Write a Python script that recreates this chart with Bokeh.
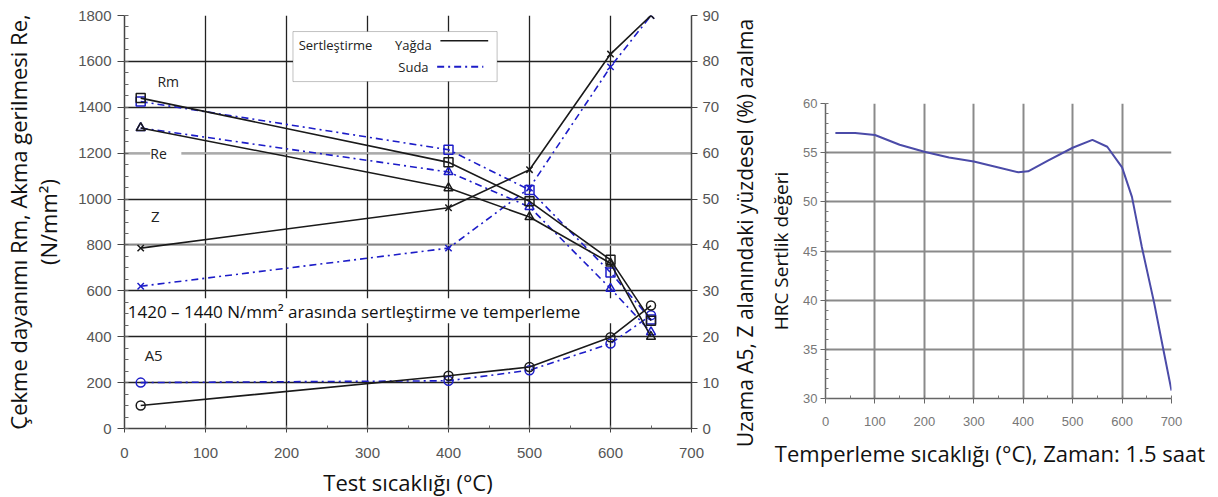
import math
from bokeh.plotting import figure
from bokeh.models import (Range1d, LinearAxis, SingleIntervalTicker, Label,
                          BoxAnnotation, Span, Spacer, FixedTicker)
from bokeh.layouts import row, column
from bokeh.embed import file_html
from bokeh.resources import INLINE

# ---------------- data ----------------
test_temps = [20, 400, 500, 600, 650]
# oil quench (Yağda) - black solid
rm_oil = [1440, 1160, 990, 735, 470]
re_oil = [1310, 1048, 922, 720, 400]
z_oil = [39.3, 48.1, 56.4, 81.6, 90.0]
a5_oil = [5.0, 11.5, 13.4, 19.9, 26.8]
# water quench (Suda) - blue dash-dot
rm_water = [1425, 1215, 1040, 680, 475]
re_water = [1310, 1118, 966, 610, 420]
z_water = [31.0, 39.3, 52.4, 78.8, 90.0]
a5_water = [10.0, 10.4, 12.7, 18.5, 24.7]

hrc_temps = [20, 60, 100, 150, 200, 250, 300, 350, 390, 410, 450, 500, 540,
             570, 600, 620, 640, 665, 685, 700]
hrc_values = [57.0, 57.0, 56.8, 55.8, 55.1, 54.5, 54.1, 53.5, 53.0, 53.1,
              54.2, 55.5, 56.3, 55.6, 53.5, 50.5, 45.4, 39.7, 34.6, 30.8]

BLACK = "#1a1a1a"
BLUE = "#1c1cc8"
TITLE_FONT = "Open Sans"
TICK_FONT = "Liberation Sans"
DASH = "7 4 2 4"

# ---------------- left figure ----------------
p = figure(frame_width=567, frame_height=413,
           x_range=Range1d(0, 700), y_range=Range1d(0, 1800),
           min_border_left=124, min_border_right=34,
           min_border_top=15, min_border_bottom=60,
           output_backend="svg", toolbar_location=None)
p.outline_line_color = None
p.extra_y_ranges = {"pct": Range1d(0, 90)}

p.xaxis.ticker = SingleIntervalTicker(interval=100, num_minor_ticks=2)
p.yaxis.ticker = SingleIntervalTicker(interval=200, num_minor_ticks=4)

for ax in (p.xaxis[0], p.yaxis[0]):
    ax.axis_line_color = "#444444"
    ax.axis_line_width = 1.5
    ax.major_tick_line_color = "#444444"
    ax.minor_tick_line_color = "#666666"
    ax.major_label_text_font = TICK_FONT
    ax.major_label_text_font_size = "15px"
    ax.major_label_text_color = "#555555"
    ax.axis_label_text_font = TITLE_FONT
    ax.axis_label_text_font_size = "22px"
    ax.axis_label_text_font_style = "normal"
    ax.axis_label_text_color = "#111111"

p.yaxis.major_tick_out = 7
p.yaxis.major_tick_in = 0
p.yaxis.minor_tick_in = 4
p.yaxis.minor_tick_out = 0
p.yaxis.major_label_standoff = 6
p.yaxis.axis_label = "Çekme dayanımı Rm, Akma gerilmesi Re,\n(N/mm²)"
p.yaxis.axis_label_text_line_height = 1.0
p.yaxis.axis_label_standoff = 12

p.xaxis.major_tick_out = 4
p.xaxis.major_tick_in = 0
p.xaxis.minor_tick_in = 3
p.xaxis.minor_tick_out = 0
p.xaxis.major_label_standoff = 15
p.xaxis.axis_label = "Test sıcaklığı (°C)"
p.xaxis.axis_label_standoff = 6

rax = LinearAxis(y_range_name="pct",
                 ticker=SingleIntervalTicker(interval=10, num_minor_ticks=0))
rax.axis_line_color = "#444444"
rax.axis_line_width = 1.5
rax.major_tick_line_color = "#444444"
rax.major_tick_out = 6
rax.major_tick_in = 0
rax.major_label_text_font = TICK_FONT
rax.major_label_text_font_size = "15px"
rax.major_label_text_color = "#555555"
rax.major_label_standoff = 5
p.add_layout(rax, "right")

p.xgrid.grid_line_color = "#222222"
p.xgrid.grid_line_width = 1.3
p.ygrid.grid_line_color = "#222222"
p.ygrid.grid_line_width = 1.3
for lvl in (800, 1200):
    p.add_layout(Span(location=lvl, dimension="width", line_color="#aaaaaa",
                      line_width=1.6, level="underlay"))

# white boxes (legend and note)
p.add_layout(BoxAnnotation(left=208, right=460, top=1730, bottom=1512,
                           fill_color="white", fill_alpha=1.0,
                           line_color="#333333", line_width=1,
                           level="underlay"))
p.add_layout(BoxAnnotation(left=4, right=612, top=568, bottom=459,
                           fill_color="white", fill_alpha=1.0,
                           line_color=None, level="underlay"))

def series(xs, ys, color, dash, marker, rng="default"):
    kw = {} if rng == "default" else {"y_range_name": rng}
    p.line(xs, ys, line_color=color, line_width=1.6, line_dash=dash, **kw)
    p.scatter(xs, ys, marker=marker, size=9, line_color=color, line_width=1.5,
              fill_alpha=0, **kw)

series(test_temps, rm_water, BLUE, DASH, "square")
series(test_temps, re_water, BLUE, DASH, "triangle")
series(test_temps, z_water, BLUE, DASH, "x", "pct")
series(test_temps, a5_water, BLUE, DASH, "circle", "pct")
series(test_temps, rm_oil, BLACK, "solid", "square")
series(test_temps, re_oil, BLACK, "solid", "triangle")
series(test_temps, z_oil, BLACK, "solid", "x", "pct")
series(test_temps, a5_oil, BLACK, "solid", "circle", "pct")

# legend samples
p.line([390, 449], [1690, 1690], line_color=BLACK, line_width=1.3)
p.line([386, 443], [1577, 1577], line_color=BLUE, line_width=2, line_dash=DASH)

def lab(x, y, text, size="15px", align="left", bg=None, color="#222222",
        font=TITLE_FONT):
    p.add_layout(Label(x=x, y=y, text=text, text_font=font,
                       text_font_size=size, text_align=align,
                       text_baseline="middle", text_color=color,
                       background_fill_color=bg))

lab(215, 1673, "Sertleştirme", "13px")
lab(334, 1673, "Yağda", "13px")
lab(338, 1577, "Suda", "13px")
lab(54, 1512, "Rm", "14px", "center")
lab(51, 1200, "  Re  ", "14px", "center", bg="white")
lab(38, 925, "Z", "15px", "center")
lab(36, 320, "A5", "15px", "center")
lab(4, 512, "1420 – 1440 N/mm² arasında sertleştirme ve temperleme", "17px",
    color="#111111")

# ---------------- strip carrying the right-hand axis title ----------------
s = figure(frame_width=1, frame_height=413,
           x_range=Range1d(0, 1), y_range=Range1d(0, 1),
           min_border_left=33, min_border_right=2,
           min_border_top=15, min_border_bottom=49,
           output_backend="svg", toolbar_location=None)
s.outline_line_color = None
s.xaxis.visible = False
s.grid.visible = False
s.yaxis.ticker = FixedTicker(ticks=[0.5])
s.yaxis.major_label_overrides = {0.5: ""}
s.yaxis.axis_line_color = None
s.yaxis.major_tick_line_color = None
s.yaxis.minor_tick_line_color = None
s.yaxis.major_tick_out = 0
s.yaxis.major_label_standoff = 0
s.yaxis.axis_label = "Uzama A5, Z alanındaki yüzdesel (%) azalma"
s.yaxis.axis_label_text_font = TITLE_FONT
s.yaxis.axis_label_text_font_size = "21px"
s.yaxis.axis_label_text_font_style = "normal"
s.yaxis.axis_label_text_color = "#111111"
s.yaxis.axis_label_standoff = 0

# ---------------- right figure ----------------
q = figure(frame_width=346, frame_height=295,
           x_range=Range1d(0, 700), y_range=Range1d(30, 60),
           min_border_left=64, min_border_right=34,
           min_border_top=7, min_border_bottom=85,
           output_backend="svg", toolbar_location=None)
q.outline_line_color = None
q.xaxis.ticker = SingleIntervalTicker(interval=100, num_minor_ticks=2)
q.yaxis.ticker = SingleIntervalTicker(interval=5, num_minor_ticks=5)
for ax in (q.xaxis[0], q.yaxis[0]):
    ax.axis_line_color = "#666666"
    ax.axis_line_width = 1.5
    ax.major_tick_line_color = "#666666"
    ax.minor_tick_line_color = "#777777"
    ax.major_tick_out = 5
    ax.major_tick_in = 0
    ax.minor_tick_in = 3
    ax.minor_tick_out = 0
    ax.major_label_text_font = TICK_FONT
    ax.major_label_text_font_size = "13px"
    ax.major_label_text_color = "#777777"
    ax.axis_label_text_font = TITLE_FONT
    ax.axis_label_text_font_style = "normal"
    ax.axis_label_text_color = "#111111"
q.yaxis.axis_label = "HRC Sertlik değeri"
q.yaxis.axis_label_text_font_size = "19px"
q.yaxis.axis_label_standoff = 6
q.yaxis.major_label_standoff = 3
q.xaxis.axis_label = "Temperleme  sıcaklığı  (°C), Zaman:  1.5 saat"
q.xaxis.axis_label_text_font_size = "22px"
q.xaxis.major_label_standoff = 13
q.xaxis.axis_label_standoff = 9
q.xgrid.grid_line_color = "#8a8a8a"
q.xgrid.grid_line_width = 2
q.ygrid.grid_line_color = "#8a8a8a"
q.ygrid.grid_line_width = 2

q.line(hrc_temps, hrc_values, line_color="#4b4ba8", line_width=2)

layout = row(p,
             column(Spacer(width=36, height=11), s),
             column(Spacer(width=440, height=96), q))
open("out.html", "w").write(file_html(layout, INLINE))
